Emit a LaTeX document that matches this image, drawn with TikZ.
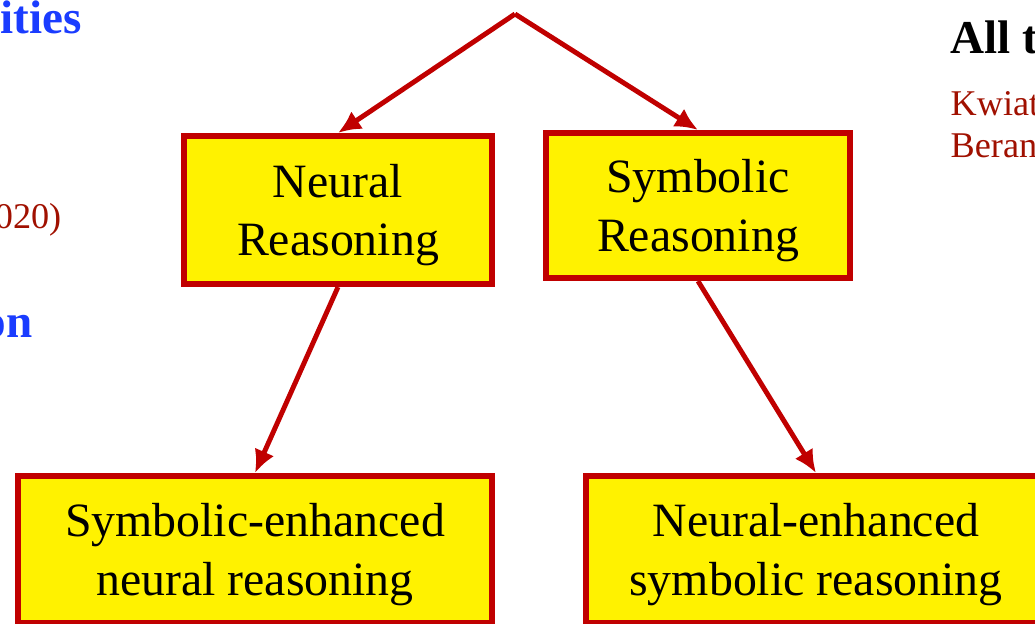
\documentclass[tikz,border=0pt]{standalone}
\usepackage{fontspec}
\setmainfont{Liberation Serif}
\usetikzlibrary{arrows.meta}
\definecolor{rahmenrot}{HTML}{C00000}
\definecolor{titelblau}{HTML}{1A3CFF}
\definecolor{quellrot}{HTML}{A01000}
\begin{document}
\begin{tikzpicture}[x=0.01cm, y=-0.01cm, >={Latex[length=6.5pt,width=6pt]},
  box/.style={draw=rahmenrot, line width=1.7pt, fill=yellow, align=center,
    inner sep=0pt, text depth=0pt, font=\fontsize{13.6}{16.6}\selectfont},
  pfeil/.style={->, draw=rahmenrot, line width=1.4pt},
  titel/.style={anchor=base west, inner sep=0pt, font=\fontsize{13.4}{16}\selectfont\bfseries},
  quelle/.style={anchor=base west, inner sep=0pt, text=quellrot, font=\fontsize{10.3}{12}\selectfont}]
% Rahmen des Bildes
\useasboundingbox (0,0) rectangle (1035,623);
\clip (0,0) rectangle (1035,623);
% Spitze oben
\coordinate (S) at (515,14);
% Kaesten
\node[box, minimum width=3.07cm, minimum height=1.48cm] (NR) at (338,210) {Neural\\Reasoning};
\node[box, minimum width=3.04cm, minimum height=1.45cm] (SR) at (698,205.5) {Symbolic\\Reasoning};
\node[box, minimum width=4.74cm, minimum height=1.47cm] (SE) at (255,549.5) {Symbolic-enhanced\\neural reasoning};
\node[box, minimum width=4.60cm, minimum height=1.47cm] (NE) at (816,549.5) {Neural-enhanced\\symbolic reasoning};
% Pfeile
\draw[pfeil] (S) -- (NR.north);
\draw[pfeil] (S) -- (SR.north);
\draw[pfeil] (NR.south) -- (SE.north);
\draw[pfeil] (SR.south) -- (NE.north);
% Textreste am Rand
\node[titel, text=titelblau] (t1) at (0,33) {ities};
\node[quelle, anchor=base east] (q1) at (62,228) {020)};
\node[titel, text=titelblau, anchor=base east] (t2) at (33,337) {on};
\node[titel] (t3) at (950,53) {All t};
\node[quelle] (q2) at (950,115) {Kwiat};
\node[quelle] (q3) at (950,157) {Beran};
\end{tikzpicture}
\end{document}
